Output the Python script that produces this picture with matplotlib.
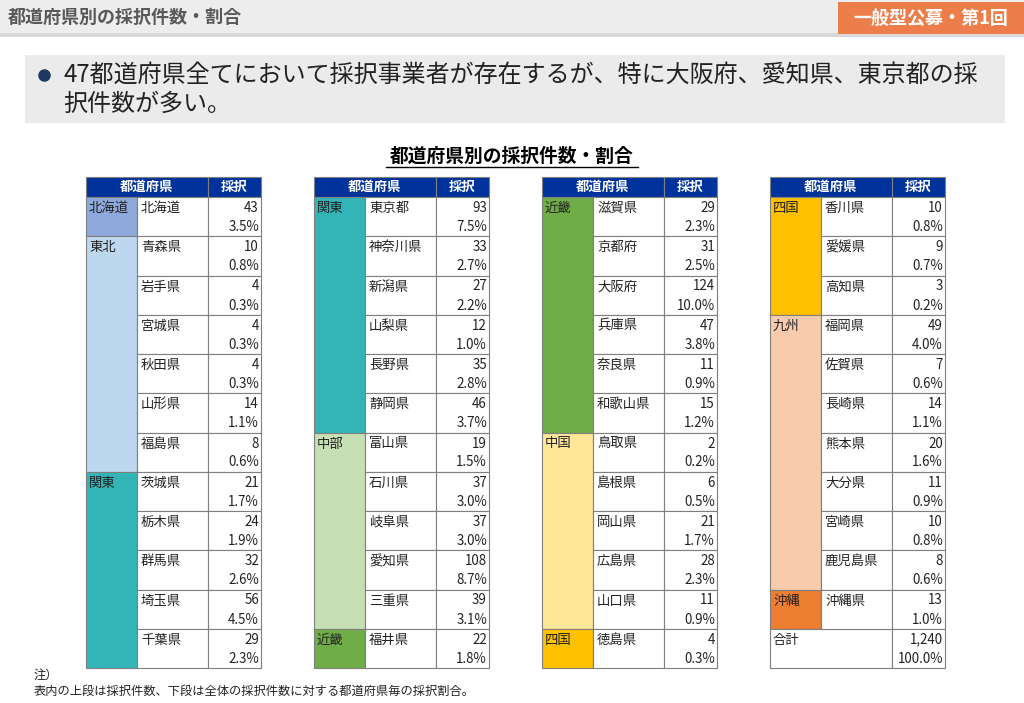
import matplotlib
matplotlib.use("Agg")
import matplotlib.pyplot as plt
from matplotlib.patches import Rectangle

plt.rcParams["font.family"] = "Noto Sans CJK JP"

# 4 columns of the table, top to bottom
regions = [
    ["北海道", "東北", "東北", "東北", "東北", "東北", "東北", "関東", "関東", "関東", "関東", "関東"],
    ["関東", "関東", "関東", "関東", "関東", "関東", "中部", "中部", "中部", "中部", "中部", "近畿"],
    ["近畿", "近畿", "近畿", "近畿", "近畿", "近畿", "中国", "中国", "中国", "中国", "中国", "四国"],
    ["四国", "四国", "四国", "九州", "九州", "九州", "九州", "九州", "九州", "九州", "沖縄", "合計"],
]
prefs = [
    ["北海道", "青森県", "岩手県", "宮城県", "秋田県", "山形県", "福島県", "茨城県", "栃木県", "群馬県", "埼玉県", "千葉県"],
    ["東京都", "神奈川県", "新潟県", "山梨県", "長野県", "静岡県", "富山県", "石川県", "岐阜県", "愛知県", "三重県", "福井県"],
    ["滋賀県", "京都府", "大阪府", "兵庫県", "奈良県", "和歌山県", "鳥取県", "島根県", "岡山県", "広島県", "山口県", "徳島県"],
    ["香川県", "愛媛県", "高知県", "福岡県", "佐賀県", "長崎県", "熊本県", "大分県", "宮崎県", "鹿児島県", "沖縄県", ""],
]
counts = [
    ["43", "10", "4", "4", "4", "14", "8", "21", "24", "32", "56", "29"],
    ["93", "33", "27", "12", "35", "46", "19", "37", "37", "108", "39", "22"],
    ["29", "31", "124", "47", "11", "15", "2", "6", "21", "28", "11", "4"],
    ["10", "9", "3", "49", "7", "14", "20", "11", "10", "8", "13", "1,240"],
]
shares = [
    ["3.5%", "0.8%", "0.3%", "0.3%", "0.3%", "1.1%", "0.6%", "1.7%", "1.9%", "2.6%", "4.5%", "2.3%"],
    ["7.5%", "2.7%", "2.2%", "1.0%", "2.8%", "3.7%", "1.5%", "3.0%", "3.0%", "8.7%", "3.1%", "1.8%"],
    ["2.3%", "2.5%", "10.0%", "3.8%", "0.9%", "1.2%", "0.2%", "0.5%", "1.7%", "2.3%", "0.9%", "0.3%"],
    ["0.8%", "0.7%", "0.2%", "4.0%", "0.6%", "1.1%", "1.6%", "0.9%", "0.8%", "0.6%", "1.0%", "100.0%"],
]
region_colors = {
    "北海道": "#8EA9DB", "東北": "#BDD7EE", "関東": "#33B5B8", "中部": "#C6E0B4",
    "近畿": "#70AD47", "中国": "#FFE699", "四国": "#FFC000", "九州": "#F8CBAD",
    "沖縄": "#ED7D31", "合計": "white",
}

W, H = 1024, 703
fig = plt.figure(figsize=(W / 100, H / 100), dpi=100)
ax = fig.add_axes([0, 0, 1, 1])
ax.set_xlim(0, W)
ax.set_ylim(H, 0)
ax.axis("off")

# page header
ax.add_patch(Rectangle((0, 0), W, 36, facecolor="#EDEDED", edgecolor="none"))
ax.add_patch(Rectangle((0, 33), W, 4, facecolor="#D9D9D9", edgecolor="none"))
ax.text(8, 17, "都道府県別の採択件数・割合", fontsize=13, color="#595959", va="center", fontweight="bold")
ax.add_patch(Rectangle((838, 2), 186, 32, facecolor="#ED7D4A", edgecolor="none"))
ax.text(931, 18, "一般型公募・第1回", fontsize=13, color="white", va="center", ha="center", fontweight="bold")

# bullet box
ax.add_patch(Rectangle((25, 55), 980, 68, facecolor="#EBEBEB", edgecolor="none"))
ax.plot(44, 75, "o", color="#1F3864", markersize=8)
ax.text(63, 75, "47都道府県全てにおいて採択事業者が存在するが、特に大阪府、愛知県、東京都の採",
        fontsize=17.3, va="center", color="#222222")
ax.text(63, 104, "択件数が多い。", fontsize=17.3, va="center", color="#222222")

# chart title
ax.text(512, 156, "都道府県別の採択件数・割合", fontsize=13.5, fontweight="bold", ha="center", va="center")
ax.plot([386, 638], [167, 167], color="black", lw=1)

x0s = [86, 314, 542, 770]
wr, wp, wc = 51, 71, 53
ytop, hh, rh = 177, 20, 39.25
navy = "#00329B"
edge = "#7F7F7F"
fs = 9.6

for t in range(4):
    x0 = x0s[t]
    ax.add_patch(Rectangle((x0, ytop), wr + wp, hh, facecolor=navy, edgecolor=edge, lw=0.8))
    ax.add_patch(Rectangle((x0 + wr + wp, ytop), wc, hh, facecolor=navy, edgecolor=edge, lw=0.8))
    ax.text(x0 + (wr + wp) / 2, ytop + hh / 2, "都道府県", color="white", fontsize=fs,
            fontweight="bold", ha="center", va="center")
    ax.text(x0 + wr + wp + wc / 2, ytop + hh / 2, "採択", color="white", fontsize=fs,
            fontweight="bold", ha="center", va="center")
    y0 = ytop + hh
    reg = regions[t]
    # merged region blocks
    i = 0
    while i < len(reg):
        j = i
        while j + 1 < len(reg) and reg[j + 1] == reg[i]:
            j += 1
        yb = y0 + i * rh
        hb = (j - i + 1) * rh
        if reg[i] == "合計":
            ax.add_patch(Rectangle((x0, yb), wr + wp, hb, facecolor="white", edgecolor=edge, lw=0.8))
        else:
            ax.add_patch(Rectangle((x0, yb), wr, hb, facecolor=region_colors[reg[i]], edgecolor=edge, lw=0.8))
        ax.text(x0 + 3, yb + 11, reg[i], fontsize=fs, va="center", color="#222222")
        i = j + 1
    for k in range(len(reg)):
        yb = y0 + k * rh
        if reg[k] != "合計":
            ax.add_patch(Rectangle((x0 + wr, yb), wp, rh, facecolor="white", edgecolor=edge, lw=0.8))
            ax.text(x0 + wr + 4, yb + 11, prefs[t][k], fontsize=fs, va="center", color="#222222")
        ax.add_patch(Rectangle((x0 + wr + wp, yb), wc, rh, facecolor="white", edgecolor=edge, lw=0.8))
        xr = x0 + wr + wp + wc - 2
        ax.text(xr, yb + 11, counts[t][k], fontsize=fs, va="center", ha="right", color="#222222")
        ax.text(xr, yb + 30, shares[t][k], fontsize=fs, va="center", ha="right", color="#222222")

ax.text(34, 675, "注）", fontsize=8.8, va="center", color="#222222")
ax.text(34, 691, "表内の上段は採択件数、下段は全体の採択件数に対する都道府県毎の採択割合。",
        fontsize=8.8, va="center", color="#222222")

fig.savefig("out.png", dpi=100, facecolor="white")
